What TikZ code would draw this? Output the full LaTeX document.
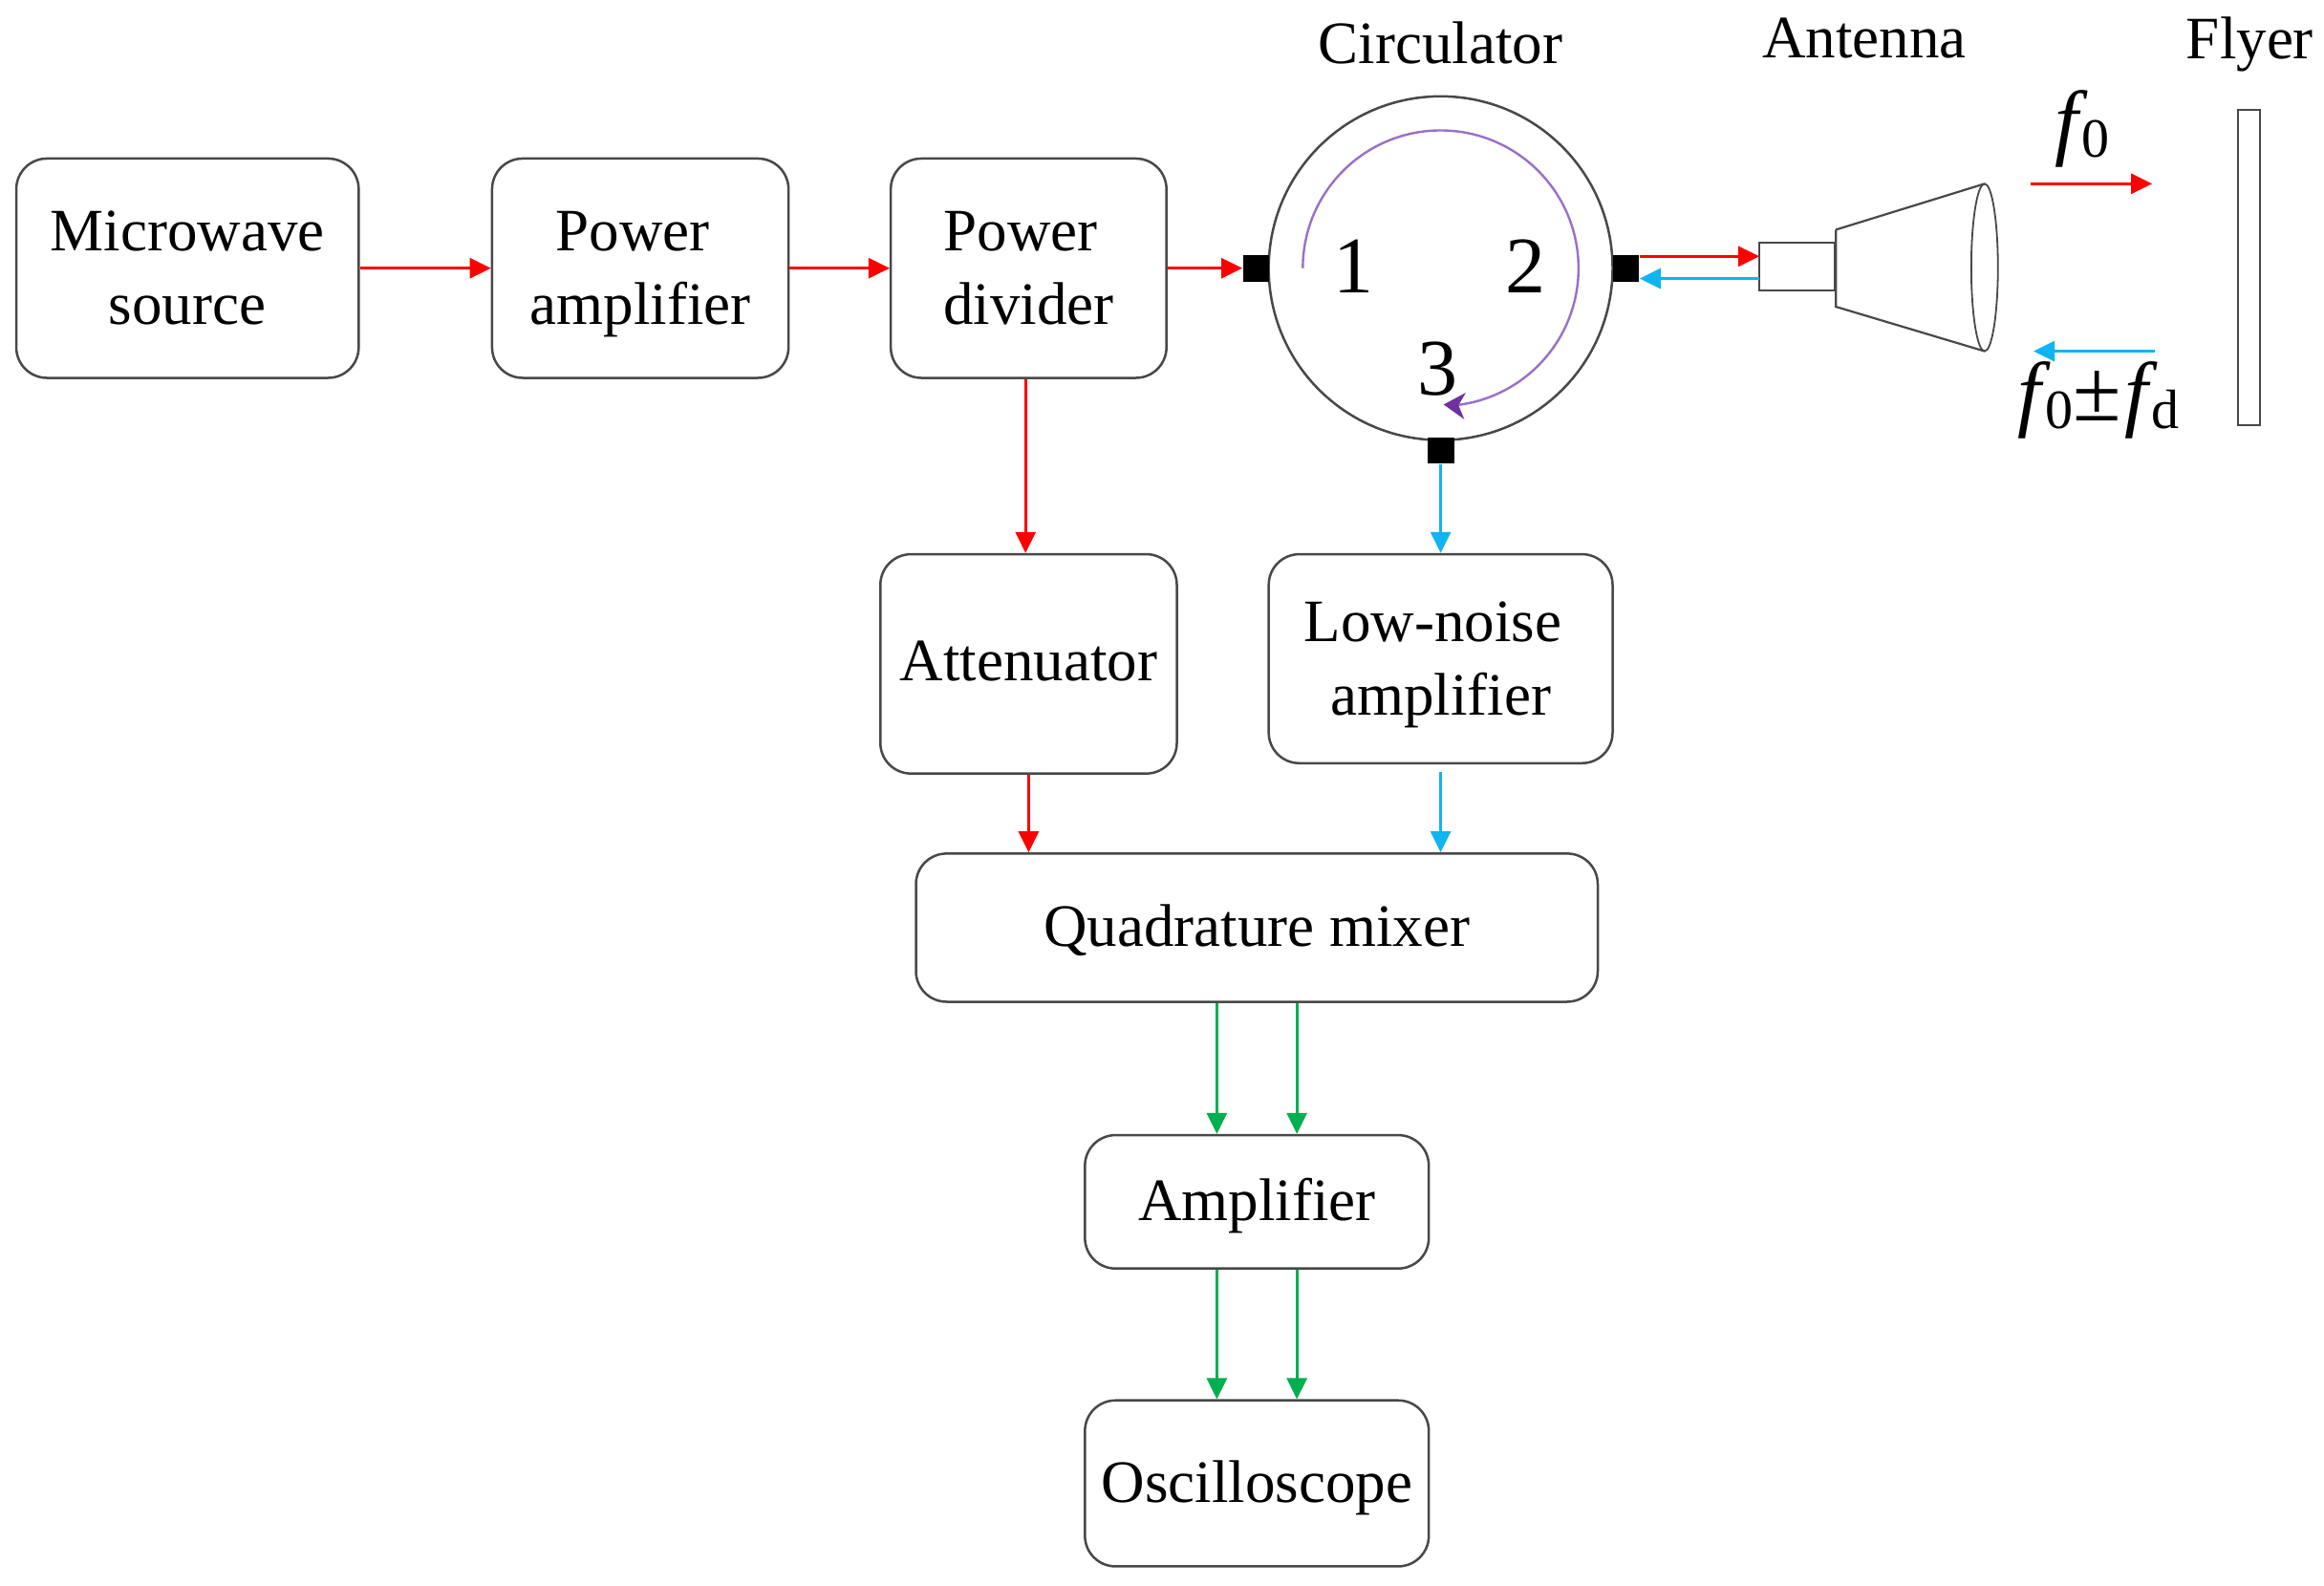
\documentclass[tikz,border=0pt]{standalone}
\usepackage{fontspec}
\setmainfont{Liberation Serif}
\usetikzlibrary{arrows.meta}
\definecolor{cred}{HTML}{FF0000}
\definecolor{cblue}{HTML}{10B4F0}
\definecolor{cgreen}{HTML}{00B050}
\definecolor{cpurple}{HTML}{9A6FC8}
\definecolor{cpurpletip}{HTML}{7030A0}
\definecolor{cline}{HTML}{484848}
\newcommand{\uu}{0.7755pt}
\newcommand{\labelfont}{\fontsize{31.5}{38.4}\selectfont}
\newcommand{\digitfont}{\fontsize{42}{46}\selectfont}
\newcommand{\symfont}{\fontsize{44}{48}\selectfont\itshape}
\newcommand{\subsym}[1]{\raisebox{-4pt}{\fontsize{29}{30}\selectfont\upshape #1}}
\newcommand{\strutup}{\rule{0pt}{28pt}}
\newcommand{\strutdown}{\rule[-7.4pt]{0pt}{7.4pt}}
\newcommand{\strutone}{\rule[-8pt]{0pt}{35.6pt}}
\newcommand{\strutatt}{\rule[-8pt]{0pt}{34pt}}
\tikzset{
  x=\uu, y=-\uu,
  box/.style={draw=cline, line width=1.25pt, rounded corners=16pt, inner sep=0pt, align=center, font=\labelfont},
  plain/.style={inner sep=0pt, align=center, font=\labelfont},
  port/.style={fill=black, draw=none, inner sep=0pt, rectangle},
  num/.style={inner sep=0pt, font=\digitfont},
  sym/.style={inner sep=0pt},
  sig/.style={line width=1.45pt, -{Stealth[length=11pt,width=10.5pt,inset=0pt]}},
  rd/.style={sig, draw=cred, fill=cred},
  bl/.style={sig, draw=cblue, fill=cblue},
  gr/.style={sig, draw=cgreen, fill=cgreen},
  thinl/.style={draw=cline, line width=1.1pt},
}
\begin{document}
\begin{tikzpicture}
\useasboundingbox (0,0) rectangle (1568,1069.7);
\fill[white] (0,0) rectangle (1568,1069.7);

% boxes
\node[box, minimum width=231*\uu, minimum height=148*\uu] (src) at (126.5,181) {\strutup Microwave\\source\strutdown};
\node[box, minimum width=200*\uu, minimum height=148*\uu] (pa) at (432,181) {\strutup\hspace*{-8pt}Power\\amplifier\strutdown};
\node[box, minimum width=186*\uu, minimum height=148*\uu] (div) at (694,181) {\strutup\hspace*{-8pt}Power\\divider\strutdown};
\node[box, minimum width=200*\uu, minimum height=148*\uu] (att) at (694,448) {\strutatt Attenuator};
\node[box, minimum width=232*\uu, minimum height=141*\uu] (lna) at (972,444.5) {\strutup\hspace*{-8pt}Low-noise\\amplifier\strutdown};
\node[box, minimum width=460*\uu, minimum height=100*\uu] (mix) at (848,626) {\strutone Quadrature mixer};
\node[box, minimum width=232*\uu, minimum height=90*\uu] (amp) at (848,811) {\strutone Amplifier};
\node[box, minimum width=232*\uu, minimum height=112*\uu] (osc) at (848,1001) {\strutone Oscilloscope};

% circulator
\node[circle, draw=cline, line width=1.25pt, minimum size=232*\uu, inner sep=0pt] (circ) at (972,181) {};
\node[port, minimum width=18*\uu, minimum height=18*\uu] (p1) at (847.5,181) {};
\node[port, minimum width=18*\uu, minimum height=18*\uu] (p2) at (1097,181) {};
\node[port, minimum width=18*\uu, minimum height=18*\uu] (p3) at (972,304) {};
\node[num] (n1) at (913,180) {1};
\node[num] (n2) at (1029,180) {2};
\node[num] (n3) at (970,249) {3};
\coordinate (arcstart) at (879,181);
\draw[cpurple, line width=1.2pt] (arcstart) arc[start angle=180, end angle=-84, x radius=93, y radius=-93] coordinate (arcend);
\fill[cpurpletip] (974,273) -- (989,265) -- (984,273.5) -- (988,283) -- cycle;

% labels
\node[plain] (lcirc) at (972,29) {Circulator};
\node[plain] (lant) at (1258,26) {Antenna};
\node[plain] (lfly) at (1518,30) {Flyer};

% antenna
\node[draw=cline, line width=1.1pt, minimum width=51*\uu, minimum height=32*\uu, inner sep=0pt] (feed) at (1212.5,180) {};
\coordinate (h1) at (feed.north east |- 0,155);
\coordinate (h2) at (1339,124);
\coordinate (h3) at (1339,237);
\coordinate (h4) at (feed.south east |- 0,207);
\draw[thinl] (h1) -- (h2) (h3) -- (h4) -- (h1);
\draw[thinl, line width=0.9pt] (1339,180.5) ellipse[x radius=9, y radius=56.5];

% flyer
\node[draw=cline, line width=1.1pt, minimum width=15*\uu, minimum height=213*\uu, inner sep=0pt] (fly) at (1517.5,180.5) {};

% frequency arrows
\coordinate (a1) at (1370,124);
\coordinate (a2) at (1452,124);
\coordinate (b1) at (1454,237);
\coordinate (b2) at (1372,237);
\draw[rd] (a1) -- (a2);
\draw[bl] (b1) -- (b2);
\node[sym] (f0) at (1405,87) {\symfont f\kern2pt\subsym{0}};
\node[sym] (fd) at (1416,270) {\symfont f\kern2pt\subsym{0}{\upshape\fontsize{46}{48}\selectfont ±}\kern2pt f\kern2pt\subsym{d}};

% connectors
\coordinate (rt) at (1187,173);
\coordinate (bt) at (1187,188);
\draw[rd] (src.east) -- (pa.west);
\draw[rd] (pa.east) -- (div.west);
\draw[rd] (div.east) -- (p1.west);
\draw[rd] (rt -| p2.east) -- (rt);
\draw[bl] (bt) -- (bt -| p2.east);
\draw[rd] ([xshift=-1.6pt]div.south) -- ([xshift=-1.6pt]att.north);
\draw[rd] (att.south) -- (att.south |- mix.north);
\draw[bl] (p3.south) -- (lna.north);
\draw[bl] ([yshift=-4pt]lna.south) -- (lna.south |- mix.north);
\draw[gr] (mix.south -| 821,0) -- (amp.north -| 821,0);
\draw[gr] (mix.south -| 875,0) -- (amp.north -| 875,0);
\draw[gr] (amp.south -| 821,0) -- (osc.north -| 821,0);
\draw[gr] (amp.south -| 875,0) -- (osc.north -| 875,0);
\end{tikzpicture}
\end{document}
